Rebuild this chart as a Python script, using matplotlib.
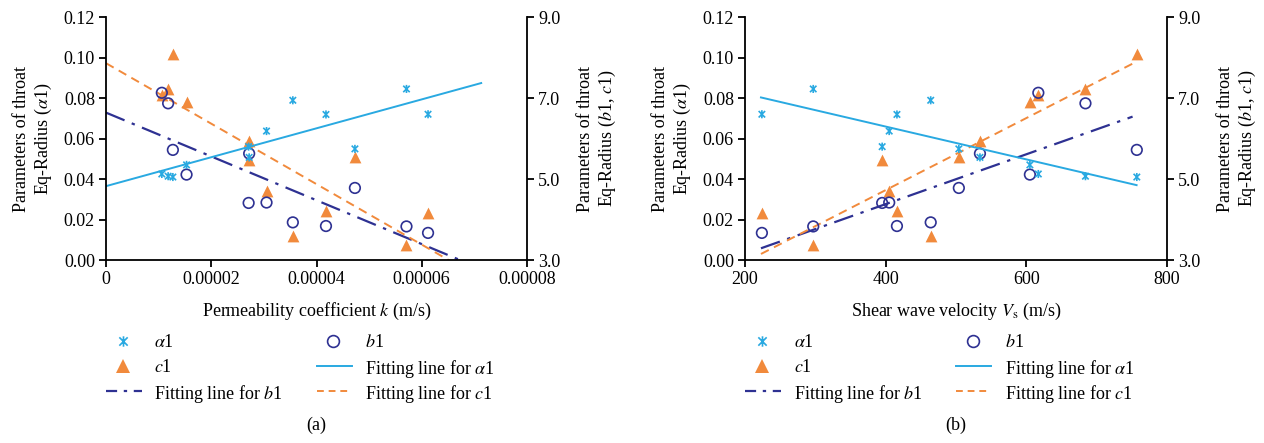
import numpy as np
import matplotlib
matplotlib.use("Agg")
import matplotlib.pyplot as plt
from matplotlib.path import Path

plt.rcParams["font.family"] = ["Liberation Serif", "DejaVu Serif"]
plt.rcParams["mathtext.fontset"] = "stix"

# Twelve samples: permeability, shear wave velocity and the three throat parameters
k_perm = np.array([6.12, 5.71, 2.71, 3.05, 4.18, 3.55, 4.73, 2.72, 1.53, 1.06, 1.18, 1.27]) * 1e-5
vs = np.array([224, 297, 395, 405, 416, 464, 504, 534, 605, 617, 684, 757])
alpha1 = np.array([0.0720, 0.0845, 0.0560, 0.0637, 0.0719, 0.0789, 0.0549, 0.0507,
                   0.0470, 0.0425, 0.0414, 0.0410])
b1 = np.array([3.67, 3.83, 4.41, 4.42, 3.84, 3.93, 4.78, 5.63, 5.11, 7.13, 6.87, 5.72])
c1 = np.array([4.15, 3.38, 5.48, 4.70, 4.20, 3.60, 5.54, 5.94, 6.90, 7.07, 7.23, 8.09])

# Linear trend lines (intercept, slope) and the x span each is drawn over
fit_a = {
    "alpha1": (0.0365, 714.0, (0.0, 7.13e-5)),
    "b1": (6.64, -54100.0, (0.0, 7.13e-5)),
    "c1": (7.86, -74650.0, (0.0, 7.13e-5)),
}
fit_b = {
    "alpha1": (0.0803 + 8.11e-5 * 222.7, -8.11e-5, (222.7, 756.7)),
    "b1": (3.29 - 0.006154 * 222.7, 0.006154, (222.7, 751.0)),
    "c1": (3.15 - 0.008895 * 222.7, 0.008895, (222.7, 756.7)),
}

CYAN = "#29A9E1"
INDIGO = "#2E3192"
ORANGE = "#F18A3C"

# Excel-style star: an x with a vertical bar through it
star = Path(
    [(-1, -1), (1, 1), (-1, 1), (1, -1), (0, -1.25), (0, 1.25)],
    [Path.MOVETO, Path.LINETO, Path.MOVETO, Path.LINETO, Path.MOVETO, Path.LINETO],
)

FS = 13
DASHDOT = (9, 3.5, 1.5, 3.5)
DASH = (4.5, 3)


def legend_block(ax):
    # two-column key laid out by hand so rows line up across columns
    rows = [-0.333, -0.436, -0.539]
    col_mark = [0.041, 0.540]
    col_text = [0.115, 0.615]
    line_span = [(0.0, 0.085), (0.501, 0.584)]
    kw = dict(transform=ax.transAxes, clip_on=False)

    ax.plot([col_mark[0]], [rows[0]], ls="none", marker=star, ms=7.5, mfc="none",
            mec=CYAN, mew=1.2, **kw)
    ax.plot([col_mark[1]], [rows[0]], ls="none", marker="o", ms=8.5, mfc="none",
            mec=INDIGO, mew=1.2, **kw)
    ax.plot([col_mark[0]], [rows[1]], ls="none", marker="^", ms=10, color=ORANGE,
            mew=0, **kw)
    ax.plot(line_span[1], [rows[1]] * 2, color=CYAN, lw=1.4, **kw)
    ax.plot(line_span[0], [rows[2]] * 2, color=INDIGO, lw=1.6, dashes=(5, 3, 1.5, 3), **kw)
    ax.plot(line_span[1], [rows[2]] * 2, color=ORANGE, lw=1.4, dashes=(3.5, 2.5), **kw)

    labels = [
        (0, 0, "$\\mathit{\\alpha}$1"),
        (1, 0, "$\\mathit{b}$1"),
        (0, 1, "$\\mathit{c}$1"),
        (1, 1, "Fitting line for $\\mathit{\\alpha}$1"),
        (0, 2, "Fitting line for $\\mathit{b}$1"),
        (1, 2, "Fitting line for $\\mathit{c}$1"),
    ]
    for col, row, txt in labels:
        ax.text(col_text[col], rows[row], txt, transform=ax.transAxes, fontsize=FS,
                ha="left", va="center_baseline")


def draw_panel(ax, x, fits, xlim, xticks, xticklabels, xlabel, tag):
    ax2 = ax.twinx()
    ax.set_zorder(ax2.get_zorder() + 1)
    ax.patch.set_visible(False)

    ax.scatter(x, alpha1, marker=star, s=34, facecolors="none", edgecolors=CYAN,
               linewidths=1.2, zorder=3)
    ax2.scatter(x, b1, marker="o", s=58, facecolors="none", edgecolors=INDIGO,
                linewidths=1.2, zorder=3)
    ax2.scatter(x, c1, marker="^", s=72, color=ORANGE, linewidths=0, zorder=2)

    a0, a1, (xa0, xa1) = fits["alpha1"]
    xs = np.array([xa0, xa1])
    ax.plot(xs, a0 + a1 * xs, color=CYAN, lw=1.4, zorder=2)
    b0, bs, (xb0, xb1) = fits["b1"]
    xs = np.array([xb0, xb1])
    ax2.plot(xs, b0 + bs * xs, color=INDIGO, lw=1.6, dashes=DASHDOT, zorder=2)
    c0, cs, (xc0, xc1) = fits["c1"]
    xs = np.array([xc0, xc1])
    ax2.plot(xs, c0 + cs * xs, color=ORANGE, lw=1.4, dashes=DASH, zorder=2)

    ax.set_xlim(*xlim)
    ax.set_ylim(0, 0.12)
    ax2.set_ylim(3.0, 9.0)
    ax.set_xticks(xticks)
    ax.set_xticklabels(xticklabels)
    ax.set_yticks(np.arange(0, 0.121, 0.02))
    ax.set_yticklabels([f"{v:.2f}" for v in np.arange(0, 0.121, 0.02)])
    ax2.set_yticks([3.0, 5.0, 7.0, 9.0])
    ax2.set_yticklabels(["3.0", "5.0", "7.0", "9.0"])

    for a in (ax, ax2):
        a.spines["top"].set_visible(False)
        for s in a.spines.values():
            s.set_linewidth(1.3)
        a.tick_params(direction="out", length=5, width=1.3, labelsize=FS, pad=3)
    ax.spines["right"].set_visible(False)
    ax2.spines["left"].set_visible(False)
    ax2.spines["bottom"].set_visible(False)

    ax.set_ylabel("Parameters of throat\nEq-Radius ($\\mathit{\\alpha}$1)", fontsize=FS,
                  labelpad=7, linespacing=1.2)
    ax2.set_ylabel("Parameters of throat\nEq-Radius ($\\mathit{b}$1, $\\mathit{c}$1)",
                   fontsize=FS, labelpad=12, linespacing=1.2)
    ax.set_xlabel(xlabel, fontsize=FS, labelpad=9)

    legend_block(ax)
    ax.text(0.5, -0.68, tag, transform=ax.transAxes, ha="center", va="center", fontsize=FS)


fig = plt.figure(figsize=(12.64, 4.43), dpi=100)
ax_a = fig.add_axes([0.0839, 0.413, 0.333, 0.5485])
ax_b = fig.add_axes([0.5894, 0.413, 0.3339, 0.5485])

draw_panel(ax_a, k_perm, fit_a, (0, 8e-5), [0, 2e-5, 4e-5, 6e-5, 8e-5],
           ["0", "0.00002", "0.00004", "0.00006", "0.00008"],
           "Permeability coefficient $\\mathit{k}$ (m/s)", "(a)")
draw_panel(ax_b, vs, fit_b, (200, 800), [200, 400, 600, 800],
           ["200", "400", "600", "800"],
           "Shear wave velocity $\\mathit{V}_{\\mathrm{s}}$ (m/s)", "(b)")

fig.savefig("out.png", dpi=100)
